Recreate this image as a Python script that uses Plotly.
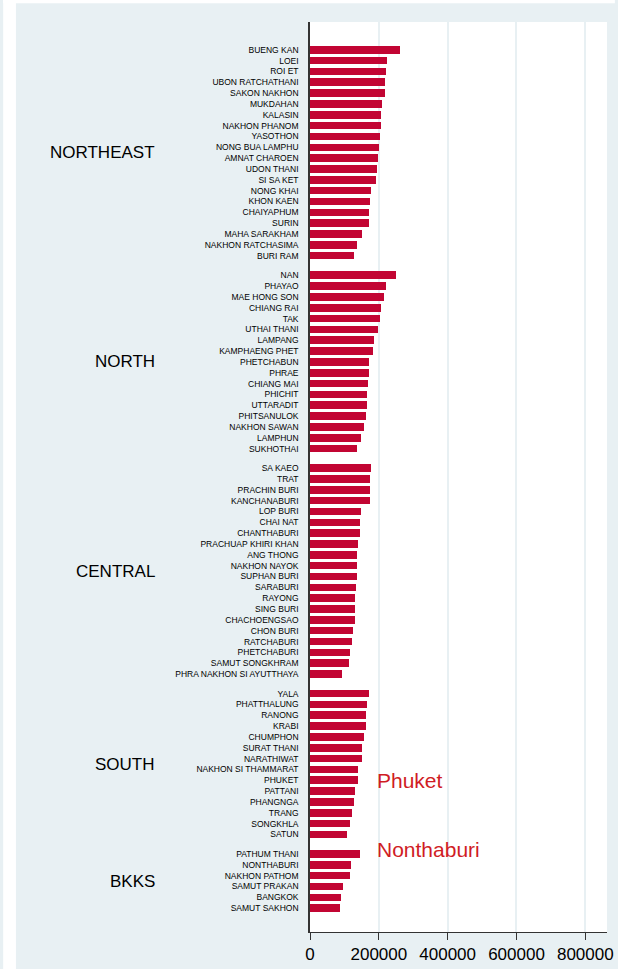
import plotly.graph_objects as go

regions = ["NORTHEAST", "NORTH", "CENTRAL", "SOUTH", "BKKS"]

northeast_names = ["BUENG KAN", "LOEI", "ROI ET", "UBON RATCHATHANI", "SAKON NAKHON", "MUKDAHAN",
                   "KALASIN", "NAKHON PHANOM", "YASOTHON", "NONG BUA LAMPHU", "AMNAT CHAROEN",
                   "UDON THANI", "SI SA KET", "NONG KHAI", "KHON KAEN", "CHAIYAPHUM", "SURIN",
                   "MAHA SARAKHAM", "NAKHON RATCHASIMA", "BURI RAM"]
northeast_vals = [262000, 225000, 220000, 218500, 217500, 210000, 207000, 206000, 203000, 200000,
                  197500, 194700, 191000, 176600, 175700, 171000, 170000, 150000, 136800, 127300]

north_names = ["NAN", "PHAYAO", "MAE HONG SON", "CHIANG RAI", "TAK", "UTHAI THANI", "LAMPANG",
               "KAMPHAENG PHET", "PHETCHABUN", "PHRAE", "CHIANG MAI", "PHICHIT", "UTTARADIT",
               "PHITSANULOK", "NAKHON SAWAN", "LAMPHUN", "SUKHOTHAI"]
north_vals = [250700, 222200, 215600, 206100, 204200, 196600, 187100, 184200, 171900, 171000,
              167300, 167000, 166200, 162400, 156700, 147200, 136800]

central_names = ["SA KAEO", "TRAT", "PRACHIN BURI", "KANCHANABURI", "LOP BURI", "CHAI NAT",
                 "CHANTHABURI", "PRACHUAP KHIRI KHAN", "ANG THONG", "NAKHON NAYOK", "SUPHAN BURI",
                 "SARABURI", "RAYONG", "SING BURI", "CHACHOENGSAO", "CHON BURI", "RATCHABURI",
                 "PHETCHABURI", "SAMUT SONGKHRAM", "PHRA NAKHON SI AYUTTHAYA"]
central_vals = [178500, 175700, 174700, 173800, 147200, 146300, 146000, 140600, 136800, 136500,
                135800, 133000, 131000, 130800, 130100, 126300, 122500, 115900, 114000, 93100]

south_names = ["YALA", "PHATTHALUNG", "RANONG", "KRABI", "CHUMPHON", "SURAT THANI", "NARATHIWAT",
               "NAKHON SI THAMMARAT", "PHUKET", "PATTANI", "PHANGNGA", "TRANG", "SONGKHLA", "SATUN"]
south_vals = [170000, 166200, 162400, 162000, 155800, 152000, 151000, 139600, 138700, 130100,
              129200, 121600, 115900, 106400]

bkks_names = ["PATHUM THANI", "NONTHABURI", "NAKHON PATHOM", "SAMUT PRAKAN", "BANGKOK", "SAMUT SAKHON"]
bkks_vals = [145300, 119700, 116800, 95000, 91200, 88300]

x_ticks = [0, 200000, 400000, 600000, 800000]

groups = [northeast_names, north_names, central_names, south_names, bkks_names]
group_vals = [northeast_vals, north_vals, central_vals, south_vals, bkks_vals]

GAP = 0.8
names, vals, pos, centers = [], [], [], []
p = 0.0
for gi, (gn, gv) in enumerate(zip(groups, group_vals)):
    start = p
    for n, v in zip(gn, gv):
        names.append(n)
        vals.append(v)
        pos.append(p)
        p += 1
    centers.append((start + p - 1) / 2)
    p += GAP

BG = "#e8f0f3"
BAR = "#c20533"
RED = "#d01c24"

fig = go.Figure(go.Bar(
    x=vals, y=pos, orientation="h", width=0.7,
    marker=dict(color=BAR, line=dict(width=0)),
    hoverinfo="skip",
))

W, H = 618, 969
ML, MR, MT, MB = 310, 5, 22, 30
pw, ph = W - ML - MR, H - MT - MB

annotations = []
for r, c in zip(regions, centers):
    annotations.append(dict(
        x=(154 - ML) / pw, xref="paper", y=c, yref="y", text=r, showarrow=False,
        xanchor="right", yanchor="middle",
        font=dict(family="Liberation Sans, Arial", size=17, color="#000000")))

phuket_pos = pos[names.index("PHUKET")]
pathum_pos = pos[names.index("PATHUM THANI")]
annotations.append(dict(x=188000, y=phuket_pos, xref="x", yref="y", text="Phuket",
                        showarrow=False, xanchor="left", yanchor="middle",
                        font=dict(family="Liberation Sans, Arial", size=21, color=RED)))
annotations.append(dict(x=188000, y=pathum_pos - 0.4, xref="x", yref="y", text="Nonthaburi",
                        showarrow=False, xanchor="left", yanchor="middle",
                        font=dict(family="Liberation Sans, Arial", size=21, color=RED)))

shapes = [
    dict(type="rect", xref="paper", yref="paper", x0=-ML / pw - 0.01, x1=(10 - ML) / pw,
         y0=-MB / ph - 0.01, y1=1 + MT / ph + 0.01, fillcolor="white", line=dict(width=0)),
    dict(type="rect", xref="paper", yref="paper", x0=-ML / pw - 0.01, x1=1 + MR / pw + 0.01,
         y0=1 + (MT - 3) / ph, y1=1 + MT / ph + 0.01, fillcolor="white", line=dict(width=0)),
]

fig.update_layout(
    width=W, height=H, autosize=False,
    margin=dict(l=ML, r=MR, t=MT, b=MB, pad=0),
    paper_bgcolor=BG, plot_bgcolor="white",
    showlegend=False, bargap=0,
    annotations=annotations, shapes=shapes,
    font=dict(family="Liberation Sans, Arial", color="#000000"),
    xaxis=dict(
        range=[0, 863000], tickvals=x_ticks, ticktext=[str(t) for t in x_ticks],
        showgrid=True, gridcolor=BG, gridwidth=2, zeroline=False,
        showline=True, linecolor="#333333", linewidth=1,
        ticks="outside", ticklen=7, tickcolor="#333333", tickwidth=1,
        ticklabeloverflow="allow",
        tickfont=dict(size=17, color="#000000"), fixedrange=True,
    ),
    yaxis=dict(
        range=[pos[-1] + 2.2, -2.56], tickvals=pos, ticktext=names,
        showgrid=False, zeroline=False,
        showline=True, linecolor="#333333", linewidth=1.5,
        ticks="", ticklabelstandoff=8,
        tickfont=dict(size=8.5, color="#000000"), fixedrange=True,
    ),
)

fig.write_html("out.html", config={"displayModeBar": False},
               post_script="document.body.style.margin='0';document.body.style.overflow='hidden';")
